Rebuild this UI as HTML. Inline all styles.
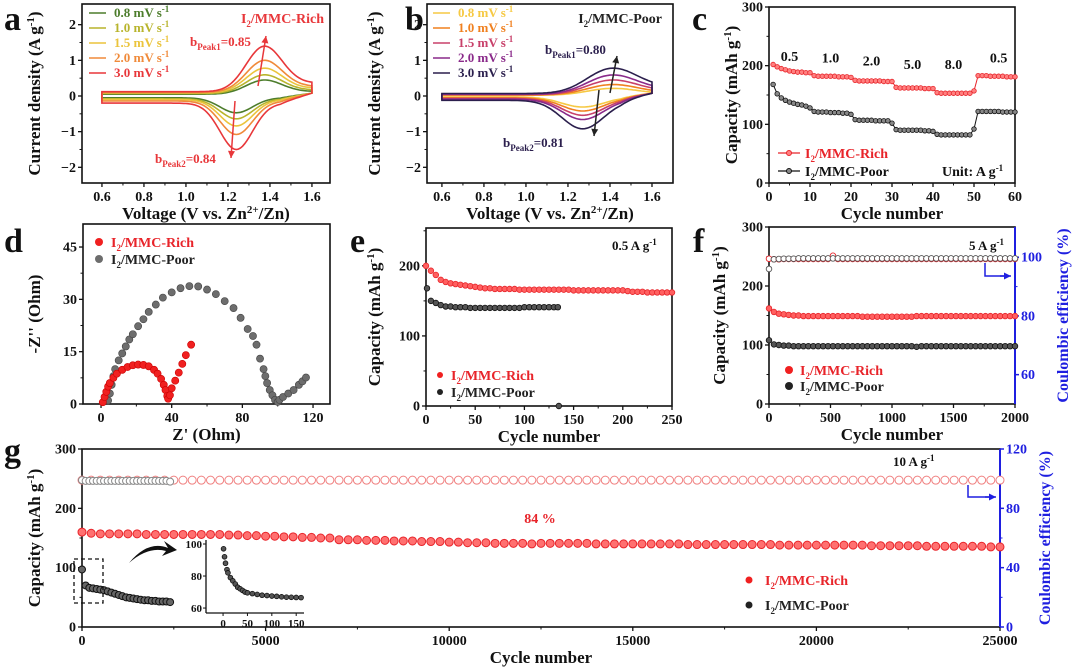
<!DOCTYPE html>
<html><head><meta charset="utf-8">
<style>
html,body{margin:0;padding:0;background:#fff;}
svg{display:block;font-family:"Liberation Serif",serif;font-weight:bold;}
</style></head>
<body>
<svg id="fig" width="1080" height="670" viewBox="0 0 1080 670" xmlns="http://www.w3.org/2000/svg"></svg>
<script>
// ---------- DATA ----------
const cvRates = ["0.8","1.0","1.5","2.0","3.0"];
const cvRichAnodic = [0.38,0.50,0.66,0.86,1.22];
const cvRichCathodic = [-0.42,-0.56,-0.74,-0.94,-1.30];
const cvRichBaseUp = [0.05,0.07,0.09,0.10,0.12];
const cvRichBaseDn = [-0.05,-0.08,-0.10,-0.14,-0.20];
const cvPoorAnodic = [0.18,0.27,0.38,0.50,0.66];
const cvPoorCathodic = [-0.28,-0.37,-0.47,-0.57,-0.80];
const cvPoorBaseUp = [0.02,0.03,0.04,0.05,0.07];
const cvPoorBaseDn = [-0.03,-0.05,-0.07,-0.09,-0.12];
const cvRichColors = ["#4d7d2c","#b8b42c","#ebc43c","#f08a3a","#e8373a"];
const cvPoorColors = ["#f6c943","#f0801f","#c8406a","#8a2a8a","#2b1f4d"];

const rateCycles = [1,2,3,4,5,6,7,8,9,10,11,12,13,14,15,16,17,18,19,20,21,22,23,24,25,26,27,28,29,30,31,32,33,34,35,36,37,38,39,40,41,42,43,44,45,46,47,48,49,50,51,52,53,54,55,56,57,58,59,60];
const rateRich = [202,198,195,193,191,190,189,189,188,188,183,182,182,182,182,182,181,181,181,180,175,174,174,174,174,174,174,173,173,173,163,162,162,162,162,162,162,161,161,161,154,153,153,153,153,153,153,153,153,157,183,183,183,182,182,182,182,181,181,181];
const ratePoor = [168,152,145,141,138,136,134,133,131,128,122,121,121,121,120,120,120,119,119,117,108,107,107,107,107,106,106,106,106,102,91,90,90,90,90,90,90,89,89,88,83,82,82,82,82,82,82,82,82,92,122,122,122,122,122,122,121,121,121,121];
const rateLabels = ["0.5","1.0","2.0","5.0","8.0","0.5"];
const rateLabelX = [5,15,25,35,45,56];
const rateLabelY = [208,205,200,194,194,205];

const eisRichRe = [1,2,3,4,5,7,9,12,15,18,21,24,27,30,32,34,35.5,36.5,37.5,38,39,40,42,44,46,48,51];
const eisRichIm = [0.5,2,3.5,5,6,7.5,8.7,9.8,10.6,11.1,11.3,11.2,10.8,9.8,8.7,7.2,5.5,4,2.3,1.5,2.5,4.5,6.7,9,11.5,14,17];
const eisPoorRe = [4,5,6,7,8,10,12,14,16,18,21,24,27,31,35,40,45,50,55,60,65,70,75,79,83,86,88,90,92,93,94,95.5,97,98.5,100,101,103,106,109,112,114,116];
const eisPoorIm = [1,3,5.5,8,10,12.5,14.5,16.5,18.5,20,22.3,24.3,26.4,28.5,30.5,32,33.2,33.8,33.7,32.8,31.5,29.5,27.5,24.7,21.5,19.5,17,13,10,8,6,4,2.5,1.2,0.6,1.2,2,3,4,5.5,6.5,7.6];

const eCycRich = [0,5,10,15,20,25,30,35,40,45,50,55,60,65,70,75,80,85,90,95,100,105,110,115,120,125,130,135,140,145,150,155,160,165,170,175,180,185,190,195,200,205,210,215,220,225,230,235,240,245,250];
const eCapRich = [200,193,187,180,177,175,174,173,172,171,170,169,168,168,167,167,167,167,167,166,166,166,166,166,166,166,166,166,166,166,165,165,165,165,165,165,165,165,165,165,165,164,163,163,163,162,162,162,162,162,162];
const eCycPoor = [1,5,10,15,20,25,30,35,40,45,50,55,60,65,70,75,80,85,90,95,100,105,110,115,120,125,130,134,135];
const eCapPoor = [168,150,147,144,142,142,141,141,141,140,140,140,140,140,140,140,140,140,140,140,141,141,141,141,141,141,141,141,0];

const fCyc = [0,40,80,120,160,200,240,280,320,360,400,440,480,520,560,600,640,680,720,760,800,840,880,920,960,1000,1040,1080,1120,1160,1200,1240,1280,1320,1360,1400,1440,1480,1520,1560,1600,1640,1680,1720,1760,1800,1840,1880,1920,1960,2000];
const fCapRich = [162,156,153,152,151,150,150,149,149,149,149,149,149,149,149,149,149,149,149,148,148,148,148,148,148,148,148,148,148,148,149,149,149,149,149,149,149,149,149,149,149,149,149,149,149,149,149,149,149,149,149];
const fCapPoor = [108,101,100,99,99,98,98,98,98,98,98,98,98,98,98,98,98,98,98,98,98,98,98,98,98,98,98,98,98,98,97,98,98,98,98,98,98,98,98,98,98,98,98,98,98,98,98,98,98,98,98];
const fCeRich = [99.5,99.3,99.3,99.4,99.4,99.4,99.4,99.4,99.4,99.4,99.4,99.4,99.4,100.5,99.4,99.4,99.4,99.4,99.4,99.4,99.4,99.4,99.4,99.4,99.4,99.4,99.4,99.4,99.4,99.4,99.4,99.4,99.4,99.4,99.4,99.4,99.4,99.4,99.4,99.4,99.4,99.4,99.4,99.4,99.4,99.4,99.4,99.4,99.4,99.4,99.4];
const fCePoor = [96,99.3,99.4,99.5,99.5,99.5,99.6,99.6,99.6,99.6,99.6,99.6,99.6,99.6,99.6,99.6,99.6,99.6,99.6,99.6,99.6,99.6,99.6,99.6,99.6,99.6,99.6,99.6,99.6,99.6,99.6,99.6,99.6,99.6,99.6,99.6,99.6,99.6,99.6,99.6,99.6,99.6,99.6,99.6,99.6,99.6,99.6,99.6,99.6,99.6,99.6];

const gCapRich = [160,158,157,157,157,157,157,156,156,156,156,156,156,156,156,156,155,155,154,154,153,153,152,152,151,151,150,150,147,147,147,146,146,146,145,145,145,144,144,144,143,143,142,142,142,141,141,141,141,140,141,141,141,141,141,141,140,140,140,140,140,140,140,140,140,140,139,139,139,139,139,139,139,139,139,139,138,138,138,138,138,138,138,138,138,138,137,137,137,137,137,137,136,136,136,136,136,136,136,135,135];
const gCeRich = [99,99,99,99,99,99,99,99,99,99,99,99,99,99,99,99,99,99,99,99,99,99,99,99,99,99,99,99,99,99,99,99,99,99,99,99,99,99,99,99,99,99,99,99,99,99,99,99,99,99,99,99,99,99,99,99,99,99,99,99,99,99,99,99,99,99,99,99,99,99,99,99,99,99,99,99,99,99,99,99,99,99,99,99,99,99,99,99,99,99,99,99,99,99,99,99,99,99,99,99,99];
const gCapPoor = [97,70,66,65,64,63,62,60,58,56,54,52,50,49,48,47,46,45,45,44,44,43,43,43,42];
const gCePoor = [99,98.5,98.5,98.5,98.5,98.5,98.5,98.5,98.5,98.5,98.5,98.5,98.5,98.5,98.5,98.5,98.5,98.5,98.5,98.5,98.5,98.5,98.5,98.5,98];
const insetCyc = [1,3,5,8,10,15,20,25,30,35,40,45,50,60,70,80,90,100,110,120,130,140,150,160];
const insetCap = [97,92,88,84,82,79,77,75,73,72,71,70,69.5,69,68.5,68,67.8,67.5,67.3,67,66.8,66.7,66.6,66.5];

// ---------- HELPERS ----------
const NS="http://www.w3.org/2000/svg";
const svg=document.getElementById('fig');
function el(tag,attrs,parent){const e=document.createElementNS(NS,tag);for(const k in attrs)e.setAttribute(k,attrs[k]);(parent||svg).appendChild(e);return e;}
function txt(s,x,y,size,fill,anchor,parent,rot){const t=el('text',{x:x,y:y,'font-size':size,fill:fill||'#111','text-anchor':anchor||'middle'},parent);if(rot)t.setAttribute('transform','rotate(-90 '+x+' '+y+')');t.innerHTML=s;return t;}
function scale(d0,d1,p0,p1){return v=>p0+(v-d0)/(d1-d0)*(p1-p0);}
function panel(name,o){
  const g=el('g',{});
  
  
  const sx=scale(o.xd[0],o.xd[1],o.bx[0],o.bx[1]);
  const sy=scale(o.yd[0],o.yd[1],o.by[1],o.by[0]);
  const gx=el('g',{},g);
  const gy=el('g',{},g);
  o.xt.forEach(v=>{const x=sx(v);el('line',{x1:x,x2:x,y1:o.by[1],y2:o.by[1]+4,stroke:'#111','stroke-width':1.3},gx);txt(o.xf?o.xf(v):v,x,o.by[1]+18,o.fs||14,'#111','middle',gx);});
  (o.xm||[]).forEach(v=>{const x=sx(v);el('line',{x1:x,x2:x,y1:o.by[1],y2:o.by[1]+2.5,stroke:'#111','stroke-width':1},gx);});
  o.yt.forEach(v=>{const y=sy(v);el('line',{x1:o.bx[0],x2:o.bx[0]-4,y1:y,y2:y,stroke:'#111','stroke-width':1.3},gy);txt(o.yf?o.yf(v):v,o.bx[0]-6,y+4.5,o.fs||14,'#111','end',gy);});
  (o.ym||[]).forEach(v=>{const y=sy(v);el('line',{x1:o.bx[0],x2:o.bx[0]-2.5,y1:y,y2:y,stroke:'#111','stroke-width':1},gy);});
  const fr=el('rect',{x:o.bx[0],y:o.by[0],width:o.bx[1]-o.bx[0],height:o.by[1]-o.by[0],fill:'none',stroke:'#111','stroke-width':1.6},g);
  
  const xt=txt(o.xtitle,(o.bx[0]+o.bx[1])/2,o.by[1]+36,17,'#111','middle',g);
  
  const yt=txt(o.ytitle,o.ytx,(o.by[0]+o.by[1])/2,17,'#111','middle',g,true);
  
  const lt=txt(o.letter,o.lx,o.ly,34,'#111','start',g);
  
  return {g,sx,sy};
}
function rightAxis(p,o){
  const g=el('g',{},p.g);
  const sy=scale(o.yd[0],o.yd[1],o.by[1],o.by[0]);
  el('line',{x1:o.x,x2:o.x,y1:o.by[0],y2:o.by[1],stroke:'#1f1fe0','stroke-width':2},g);
  o.yt.forEach(v=>{const y=sy(v);el('line',{x1:o.x,x2:o.x+4,y1:y,y2:y,stroke:'#1f1fe0','stroke-width':1.5},g);txt(v,o.x+6,y+4.5,14,'#1f1fe0','start',g);});
  (o.ym||[]).forEach(v=>{const y=sy(v);el('line',{x1:o.x,x2:o.x+2.5,y1:y,y2:y,stroke:'#1f1fe0','stroke-width':1},g);});
  const t=txt('Coulombic efficiency (%)',o.tx,(o.by[0]+o.by[1])/2,16,'#1f1fe0','middle',g,true);
  
  return sy;
}
function arrow(x1,y1,x2,y2,col,parent){
  el('line',{x1:x1,y1:y1,x2:x2,y2:y2,stroke:col,'stroke-width':1.5},parent);
  const a=Math.atan2(y2-y1,x2-x1),L=7,W=3.5;
  const p=[[x2,y2],[x2-L*Math.cos(a)+W*Math.sin(a),y2-L*Math.sin(a)-W*Math.cos(a)],[x2-L*Math.cos(a)-W*Math.sin(a),y2-L*Math.sin(a)+W*Math.cos(a)]];
  el('polygon',{points:p.map(q=>q.join(',')).join(' '),fill:col},parent);
}
function gauss(v,c,w){return Math.exp(-Math.pow((v-c)/w,2));}
function cvPath(p,A,C,bu,bd,va,vc,wa,wc,tail){
  const pts=[];
  for(let v=0.6;v<=1.6001;v+=0.01){pts.push([v,bu+A*gauss(v,va,wa)+A*tail/(1+Math.exp(-(v-va-0.06)/0.05))]);}
  for(let v=1.6;v>=0.5999;v-=0.01){pts.push([v,bd+C*gauss(v,vc,wc)+(-bd+0.08)*(v>1.45?(v-1.45)/0.15:0)]);}
  return 'M'+pts.map(q=>p.sx(q[0]).toFixed(1)+','+p.sy(q[1]).toFixed(1)).join('L')+'Z';
}

// ---------- PANEL A ----------
const pa=panel('panel-a-cv-rich',{bx:[82,330],by:[4,183],xd:[0.505,1.686],yd:[-2.44,2.58],xt:[0.6,0.8,1.0,1.2,1.4,1.6],xf:v=>v.toFixed(1),xm:[0.7,0.9,1.1,1.3,1.5],yt:[-2,-1,0,1,2],yf:v=>v<0?'\u2212'+(-v):v,ym:[-1.5,-0.5,0.5,1.5],xtitle:'Voltage (V vs. Zn<tspan dy="-6" font-size="11">2+</tspan><tspan dy="6">/Zn)</tspan>',ytitle:'Current density (A g<tspan dy="-6" font-size="11">-1</tspan><tspan dy="6">)</tspan>',ytx:40,letter:'a',lx:4,ly:30});
cvRates.forEach((r,i)=>{
  const c=el('path',{d:cvPath(pa,cvRichAnodic[i],cvRichCathodic[i],cvRichBaseUp[i],cvRichBaseDn[i],1.37,1.24,0.12,0.11,0.2),fill:'none',stroke:cvRichColors[i],'stroke-width':1.6},pa.g);
  
  const y=17+i*15;
  el('line',{x1:89,x2:106,y1:y-4,y2:y-4,stroke:cvRichColors[i],'stroke-width':1.6},pa.g);
  const t=txt(r+' mV s<tspan dy="-5" font-size="9">-1</tspan>',114,y,13,cvRichColors[i],'start',pa.g);
  
});
txt('I<tspan dy="4" font-size="9">2</tspan><tspan dy="-4">/MMC-Rich</tspan>',324,23,14,'#e8373a','end',pa.g);
txt('b<tspan dy="4" font-size="9">Peak1</tspan><tspan dy="-4">=0.85</tspan>',190,46,13,'#e8373a','start',pa.g);
txt('b<tspan dy="4" font-size="9">Peak2</tspan><tspan dy="-4">=0.84</tspan>',155,163,13,'#e8373a','start',pa.g);
arrow(258,86,266,36,'#e8373a',pa.g);
arrow(235,101,231,158,'#e8373a',pa.g);

// ---------- PANEL B ----------
const pb=panel('panel-b-cv-poor',{bx:[427,673],by:[4,183],xd:[0.529,1.7],yd:[-2.44,2.58],xt:[0.6,0.8,1.0,1.2,1.4,1.6],xf:v=>v.toFixed(1),xm:[0.7,0.9,1.1,1.3,1.5],yt:[-2,-1,0,1,2],yf:v=>v<0?'\u2212'+(-v):v,ym:[-1.5,-0.5,0.5,1.5],xtitle:'Voltage (V vs. Zn<tspan dy="-6" font-size="11">2+</tspan><tspan dy="6">/Zn)</tspan>',ytitle:'Current density (A g<tspan dy="-6" font-size="11">-1</tspan><tspan dy="6">)</tspan>',ytx:380,letter:'b',lx:405,ly:30});
cvRates.forEach((r,i)=>{
  const c=el('path',{d:cvPath(pb,cvPoorAnodic[i],cvPoorCathodic[i],cvPoorBaseUp[i],cvPoorBaseDn[i],1.4,1.27,0.16,0.14,0.3),fill:'none',stroke:cvPoorColors[i],'stroke-width':1.6},pb.g);
  
  const y=17+i*15;
  el('line',{x1:433,x2:450,y1:y-4,y2:y-4,stroke:cvPoorColors[i],'stroke-width':1.6},pb.g);
  const t=txt(r+' mV s<tspan dy="-5" font-size="9">-1</tspan>',458,y,13,cvPoorColors[i],'start',pb.g);
  
});
txt('I<tspan dy="4" font-size="9">2</tspan><tspan dy="-4">/MMC-Poor</tspan>',662,23,14,'#222','end',pb.g);
txt('b<tspan dy="4" font-size="9">Peak1</tspan><tspan dy="-4">=0.80</tspan>',545,54,13,'#2b1f4d','start',pb.g);
txt('b<tspan dy="4" font-size="9">Peak2</tspan><tspan dy="-4">=0.81</tspan>',503,147,13,'#2b1f4d','start',pb.g);
arrow(610,93,617,56,'#222',pb.g);
arrow(599,90,594,136,'#222',pb.g);

// ---------- PANEL C ----------
const pc=panel('panel-c-rate',{bx:[769,1015],by:[7,183],xd:[0,60],yd:[0,300],xt:[0,10,20,30,40,50,60],xm:[5,15,25,35,45,55],yt:[0,100,200,300],ym:[50,150,250],xtitle:'Cycle number',ytitle:'Capacity (mAh g<tspan dy="-6" font-size="11">-1</tspan><tspan dy="6">)</tspan>',ytx:737,letter:'c',lx:692,ly:30});
[[rateRich,'#e8242a','#ff8080','rich'],[ratePoor,'#111','#888','poor']].forEach(([arr,col,fillc,nm])=>{
  const l=el('polyline',{points:rateCycles.map((c,i)=>pc.sx(c)+','+pc.sy(arr[i])).join(' '),fill:'none',stroke:col,'stroke-width':1},pc.g);
  
  rateCycles.forEach((c,i)=>{const m=el('circle',{cx:pc.sx(c),cy:pc.sy(arr[i]),r:2.3,fill:fillc,stroke:col,'stroke-width':0.8},pc.g);
    });
});
rateLabels.forEach((s,i)=>{const t=txt(s,pc.sx(rateLabelX[i]),pc.sy(rateLabelY[i]),14,'#111','middle',pc.g);});
el('line',{x1:778,x2:800,y1:153,y2:153,stroke:'#e8242a','stroke-width':1.2},pc.g);el('circle',{cx:789,cy:153,r:2.5,fill:'#ff8080',stroke:'#e8242a'},pc.g);
txt('I<tspan dy="4" font-size="9">2</tspan><tspan dy="-4">/MMC-Rich</tspan>',805,158,14,'#e8242a','start',pc.g);
el('line',{x1:778,x2:800,y1:171,y2:171,stroke:'#111','stroke-width':1.2},pc.g);el('circle',{cx:789,cy:171,r:2.5,fill:'#888',stroke:'#111'},pc.g);
txt('I<tspan dy="4" font-size="9">2</tspan><tspan dy="-4">/MMC-Poor</tspan>',805,176,14,'#111','start',pc.g);
txt('Unit: A g<tspan dy="-5" font-size="9">-1</tspan>',942,176,14,'#111','start',pc.g);

// ---------- PANEL D ----------
const pd=panel('panel-d-eis',{bx:[83,330],by:[224,404],xd:[-10.2,129.6],yd:[0,51.6],xt:[0,40,80,120],xm:[20,60,100],yt:[0,15,30,45],ym:[7.5,22.5,37.5],xtitle:"Z' (Ohm)",ytitle:"-Z'' (Ohm)",ytx:40,letter:'d',lx:4,ly:252});
eisPoorRe.forEach((x,i)=>{const m=el('circle',{cx:pd.sx(x),cy:pd.sy(eisPoorIm[i]),r:3.6,fill:'#6d6d6d',stroke:'#444','stroke-width':0.6},pd.g);});
eisRichRe.forEach((x,i)=>{const m=el('circle',{cx:pd.sx(x),cy:pd.sy(eisRichIm[i]),r:3.6,fill:'#f02020',stroke:'#c00','stroke-width':0.6},pd.g);});
el('circle',{cx:99,cy:242,r:4,fill:'#f02020'},pd.g);txt('I<tspan dy="4" font-size="9">2</tspan><tspan dy="-4">/MMC-Rich</tspan>',111,247,14,'#e8242a','start',pd.g);
el('circle',{cx:99,cy:259,r:4,fill:'#6d6d6d'},pd.g);txt('I<tspan dy="4" font-size="9">2</tspan><tspan dy="-4">/MMC-Poor</tspan>',111,264,14,'#222','start',pd.g);

// ---------- PANEL E ----------
const pe=panel('panel-e-cycling-05',{bx:[426,672],by:[228,406],xd:[0,250],yd:[0,254],xt:[0,50,100,150,200,250],xm:[25,75,125,175,225],yt:[0,100,200],ym:[50,150,250],xtitle:'Cycle number',ytitle:'Capacity (mAh g<tspan dy="-6" font-size="11">-1</tspan><tspan dy="6">)</tspan>',ytx:380,letter:'e',lx:350,ly:252});
eCycRich.forEach((c,i)=>{const m=el('circle',{cx:pe.sx(c),cy:pe.sy(eCapRich[i]),r:2.8,fill:'#ff6060',stroke:'#e8242a','stroke-width':0.8},pe.g);});
eCycPoor.forEach((c,i)=>{const m=el('circle',{cx:pe.sx(c),cy:pe.sy(eCapPoor[i]),r:2.8,fill:'#555',stroke:'#111','stroke-width':0.8},pe.g);});
el('circle',{cx:440,cy:375,r:3,fill:'#f02020'},pe.g);txt('I<tspan dy="4" font-size="9">2</tspan><tspan dy="-4">/MMC-Rich</tspan>',451,380,14,'#e8242a','start',pe.g);
el('circle',{cx:440,cy:392,r:3,fill:'#222'},pe.g);txt('I<tspan dy="4" font-size="9">2</tspan><tspan dy="-4">/MMC-Poor</tspan>',451,397,14,'#222','start',pe.g);
txt('0.5 A g<tspan dy="-5" font-size="9">-1</tspan>',612,250,13,'#111','start',pe.g);

// ---------- PANEL F ----------
const pf=panel('panel-f-cycling-5',{bx:[769,1015],by:[227,404],xd:[0,2000],yd:[0,300],xt:[0,500,1000,1500,2000],xm:[250,750,1250,1750],yt:[0,100,200,300],ym:[50,150,250],xtitle:'Cycle number',ytitle:'Capacity (mAh g<tspan dy="-6" font-size="11">-1</tspan><tspan dy="6">)</tspan>',ytx:725,letter:'f',lx:693,ly:252});
const fsy2=rightAxis(pf,{x:1015,by:[227,404],yd:[50,110.3],yt:[60,80,100],ym:[70,90],tx:1068});
fCyc.forEach((c,i)=>{
  let m=el('circle',{cx:pf.sx(c),cy:fsy2(fCeRich[i]),r:2.8,fill:'#fff',stroke:'#e8242a','stroke-width':0.9},pf.g);
  m=el('circle',{cx:pf.sx(c),cy:fsy2(fCePoor[i]),r:2.8,fill:'#fff',stroke:'#555','stroke-width':0.9},pf.g);
  m=el('circle',{cx:pf.sx(c),cy:pf.sy(fCapRich[i]),r:2.8,fill:'#ff6060',stroke:'#e8242a','stroke-width':0.8},pf.g);
  m=el('circle',{cx:pf.sx(c),cy:pf.sy(fCapPoor[i]),r:2.8,fill:'#555',stroke:'#111','stroke-width':0.8},pf.g);
});
txt('5 A g<tspan dy="-5" font-size="9">-1</tspan>',969,250,13,'#111','start',pf.g);
el('polyline',{points:'985,263 985,276 1006,276',fill:'none',stroke:'#1f1fe0','stroke-width':1.5},pf.g);arrow(1000,276,1011,276,'#1f1fe0',pf.g);
el('circle',{cx:789,cy:370,r:4,fill:'#f02020'},pf.g);txt('I<tspan dy="4" font-size="9">2</tspan><tspan dy="-4">/MMC-Rich</tspan>',800,375,14,'#e8242a','start',pf.g);
el('circle',{cx:789,cy:386,r:4,fill:'#222'},pf.g);txt('I<tspan dy="4" font-size="9">2</tspan><tspan dy="-4">/MMC-Poor</tspan>',800,391,14,'#222','start',pf.g);

// ---------- PANEL G ----------
const pg=panel('panel-g-long-cycling',{bx:[82,1000],by:[449,627],xd:[0,25000],yd:[0,300],xt:[0,5000,10000,15000,20000,25000],xm:[2500,7500,12500,17500,22500],yt:[0,100,200,300],ym:[50,150,250],xtitle:'Cycle number',ytitle:'Capacity (mAh g<tspan dy="-6" font-size="11">-1</tspan><tspan dy="6">)</tspan>',ytx:40,letter:'g',lx:4,ly:462});
const gsy2=rightAxis(pg,{x:1000,by:[449,627],yd:[0,120],yt:[0,40,80,120],ym:[20,60,100],tx:1050});
gCapRich.forEach((v,i)=>{
  const c=i*250;
  let m=el('circle',{cx:pg.sx(c),cy:gsy2(gCeRich[i]),r:4,fill:'#fff',stroke:'#f08080','stroke-width':1},pg.g);
  m=el('circle',{cx:pg.sx(c),cy:pg.sy(v),r:4,fill:'#ff7070',stroke:'#e8242a','stroke-width':1},pg.g);
});
gCapPoor.forEach((v,i)=>{
  const c=i*100;
  let m=el('circle',{cx:pg.sx(c),cy:gsy2(gCePoor[i]),r:3.5,fill:'#fff',stroke:'#888','stroke-width':1},pg.g);
  m=el('circle',{cx:pg.sx(c),cy:pg.sy(v),r:3.5,fill:'#666',stroke:'#111','stroke-width':1},pg.g);
});
txt('84 %',540,523,14,'#e8242a','middle',pg.g);
txt('10 A g<tspan dy="-5" font-size="9">-1</tspan>',893,466,13,'#111','start',pg.g);
el('polyline',{points:'968,485 968,497 990,497',fill:'none',stroke:'#1f1fe0','stroke-width':1.5},pg.g);arrow(985,497,996,497,'#1f1fe0',pg.g);
el('circle',{cx:749,cy:580,r:3.5,fill:'#f02020'},pg.g);txt('I<tspan dy="4" font-size="9">2</tspan><tspan dy="-4">/MMC-Rich</tspan>',765,585,14,'#e8242a','start',pg.g);
el('circle',{cx:749,cy:605,r:3.5,fill:'#222'},pg.g);txt('I<tspan dy="4" font-size="9">2</tspan><tspan dy="-4">/MMC-Poor</tspan>',765,610,14,'#222','start',pg.g);
const db=el('rect',{x:74,y:559,width:29,height:44,fill:'none',stroke:'#111','stroke-width':1.3,'stroke-dasharray':'4,3'},pg.g);

el('path',{d:'M129,563 Q148,540 168,548 L164,541 L177,550 L162,556 L166,551 Q148,546 129,563 Z',fill:'#111'},pg.g);
const ins=el('g',{},pg.g);
const ix=scale(-35,166,206,304), iy=scale(56.9,102.5,613,540);
el('line',{x1:206,x2:206,y1:540,y2:613,stroke:'#111','stroke-width':1.3},ins);
el('line',{x1:206,x2:304,y1:613,y2:613,stroke:'#111','stroke-width':1.3},ins);
[60,80,100].forEach(v=>{el('line',{x1:206,x2:203,y1:iy(v),y2:iy(v),stroke:'#111'},ins);txt(v,202,iy(v)+4,11,'#111','end',ins);});
[0,50,100,150].forEach(v=>{el('line',{x1:ix(v),x2:ix(v),y1:613,y2:616,stroke:'#111'},ins);txt(v,ix(v),627,11,'#111','middle',ins);});
insetCyc.forEach((c,i)=>{const m=el('circle',{cx:ix(c),cy:iy(insetCap[i]),r:2.4,fill:'#555',stroke:'#111','stroke-width':0.8},ins);});
</script>
</body></html>
